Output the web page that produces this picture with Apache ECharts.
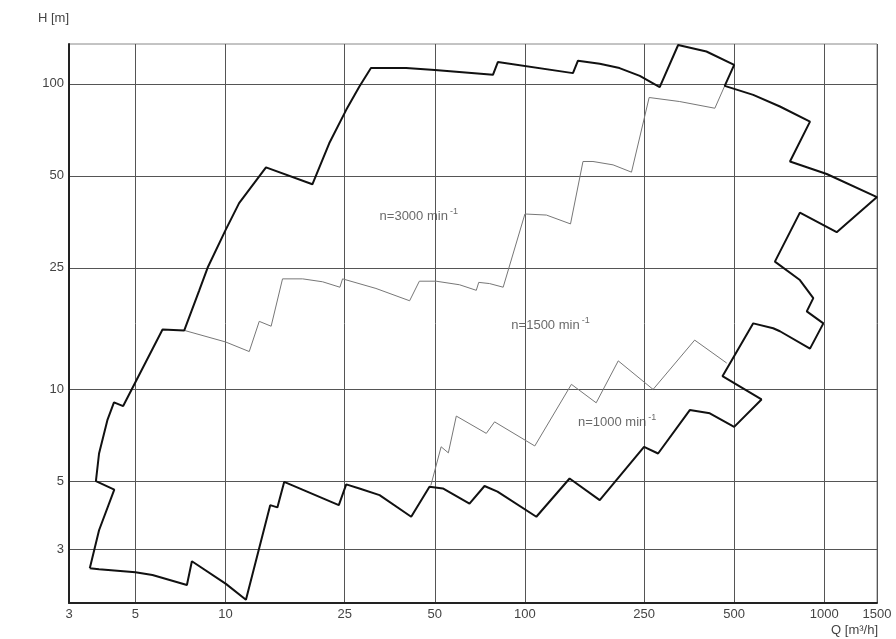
<!DOCTYPE html>
<html><head><meta charset="utf-8">
<script src="https://cdn.jsdelivr.net/npm/echarts@6/dist/echarts.min.js"></script>
<style>html,body{margin:0;padding:0;background:#fff}#c{width:896px;height:639px}</style>
</head><body><div id="c"></div>
<script>
// Tick labels (Q in m3/h, H in m)
const xTicks = [3, 5, 10, 25, 50, 100, 250, 500, 1000, 1500];
const yTicks = [3, 5, 10, 25, 50, 100];

// Outer envelope of the pump range (Q, H), closed polygon
const envelope = [
  [3.52,2.60],[3.78,3.46],[4.25,4.70],[3.69,5.01],[3.78,6.17],[4.03,7.93],[4.24,9.07],[4.55,8.82],
  [6.16,15.7],[7.28,15.6],[8.17,21.1],[8.71,25],[10.0,33.2],[11.1,40.7],[13.65,53.3],[19.5,46.9],
  [22.2,63.9],[25.3,82.2],[28.0,98.0],[30.6,112.6],[40.1,112.6],[50,111],[78.2,107],[81.2,117.8],
  [144.7,108.4],[150.4,119],[177.8,116.3],[207,112.6],[242,106.2],[282,97.6],[325,134],[404,127.6],
  [500,115.4],[465,98.5],[579,92],[711,84.3],[896,75.2],[768,55.7],[1019,50.7],[1500,42.6],
  [1100,32.7],[829,37.9],[684,26.2],[829,22.8],[919,19.9],[874,18.0],[993,16.45],[896,13.6],
  [711,15.5],[675,15.85],[579,16.45],[457,11.05],[617,9.27],[500,7.54],[414.6,8.35],[355.4,8.56],
  [278.5,6.17],[250,6.49],[177.8,4.34],[141,5.11],[109.2,3.83],[81,4.63],[73.3,4.83],[65.3,4.23],
  [53.2,4.74],[48,4.8],[41.7,3.83],[32.7,4.51],[28.0,4.74],[25.3,4.89],[23.9,4.18],[15.7,4.98],
  [14.9,4.11],[14.1,4.18],[11.7,2.05],[10.03,2.31],[7.72,2.74],[7.43,2.29],[5.7,2.47],[5,2.52],
  [3.78,2.58],[3.52,2.60]
];

// Border between n=3000 and n=1500 regions
const split3000 = [
  [7.28,15.6],[10,14.3],[12.0,13.3],[12.96,16.7],[14.2,16.1],[15.5,23.0],[18.1,23.0],[21.1,22.5],
  [24.1,21.6],[24.6,23.0],[31.8,21.4],[41.2,19.5],[44.4,22.6],[50.5,22.6],[60.5,22.0],[68.8,21.1],
  [70.1,22.4],[76.2,22.2],[84.6,21.6],[100,37.5],[118,37.2],[142,34.8],[156.3,55.7],[168.8,55.7],
  [197,54.3],[227,51.4],[260,90.2],[329,87.5],[431,83.2],[465,98.5]
];

// Border between n=1500 and n=1000 regions
const split1500 = [
  [48.5,4.85],[52.5,6.49],[55.5,6.2],[59,8.18],[74.3,7.18],[79.2,7.83],[107.9,6.53],[143,10.39],
  [173,9.04],[205,12.4],[268,10.0],[369,14.5],[472,12.2]
];

// Region labels (left-middle anchor in data coordinates)
const labelNames = ['n=3000 min', 'n=1500 min', 'n=1000 min'];
const labelQ = [32.7, 90.1, 150.4];
const labelH = [36.7, 16.2, 7.77];

const FONT = '"Liberation Sans", Arial, sans-serif';
const TXT = '#444';
const fmt = v => String(Math.round(v));

const chart = echarts.init(document.getElementById('c'), null, {renderer: 'canvas'});
chart.setOption({
  animation: false,
  backgroundColor: '#fff',
  grid: {left: 69, top: 44, right: 19, bottom: 36, containLabel: false, outerBoundsMode: 'none',
         show: true, borderColor: '#888', borderWidth: 1, backgroundColor: 'transparent'},
  xAxis: {
    type: 'log', logBase: 10, min: 3, max: 1500,
    axisLine: {show: true, lineStyle: {color: '#222', width: 2}},
    axisTick: {show: false, customValues: xTicks},
    axisLabel: {customValues: xTicks, formatter: fmt, color: TXT, fontFamily: FONT, fontSize: 13, margin: 5},
    splitLine: {show: true, lineStyle: {color: '#555', width: 1}}
  },
  yAxis: {
    type: 'log', logBase: 10, min: 2, max: 135,
    axisLine: {show: true, lineStyle: {color: '#222', width: 2}},
    axisTick: {show: false, customValues: yTicks},
    axisLabel: {customValues: yTicks, formatter: fmt, color: TXT, fontFamily: FONT, fontSize: 13, margin: 5},
    splitLine: {show: true, lineStyle: {color: '#555', width: 1}}
  },
  graphic: [
    {type: 'text', left: 38, top: 12, style: {text: 'H [m]', fill: TXT, font: '13px ' + FONT}},
    {type: 'text', right: 18, top: 624, style: {text: 'Q [m³/h]', fill: TXT, font: '13px ' + FONT}}
  ],
  series: [
    {type: 'line', data: split3000, symbol: 'none', silent: true, z: 3,
     lineStyle: {color: '#777', width: 1}},
    {type: 'line', data: split1500, symbol: 'none', silent: true, z: 3,
     lineStyle: {color: '#777', width: 1}},
    {type: 'line', data: envelope, symbol: 'none', silent: true, z: 4,
     lineStyle: {color: '#111', width: 2}},
    {type: 'scatter', symbolSize: 0, silent: true, z: 5,
     data: labelNames.map((n, i) => ({name: n, value: [labelQ[i], labelH[i]]})),
     label: {show: true, position: 'inside', align: 'left', verticalAlign: 'middle',
       formatter: p => '{a|' + p.name + '}{s|-1}',
       rich: {a: {fontSize: 13, fontFamily: FONT, color: TXT},
              s: {fontSize: 9, fontFamily: FONT, color: TXT, padding: [0, 0, 10, 2]}}}}
  ]
});
</script></body></html>
